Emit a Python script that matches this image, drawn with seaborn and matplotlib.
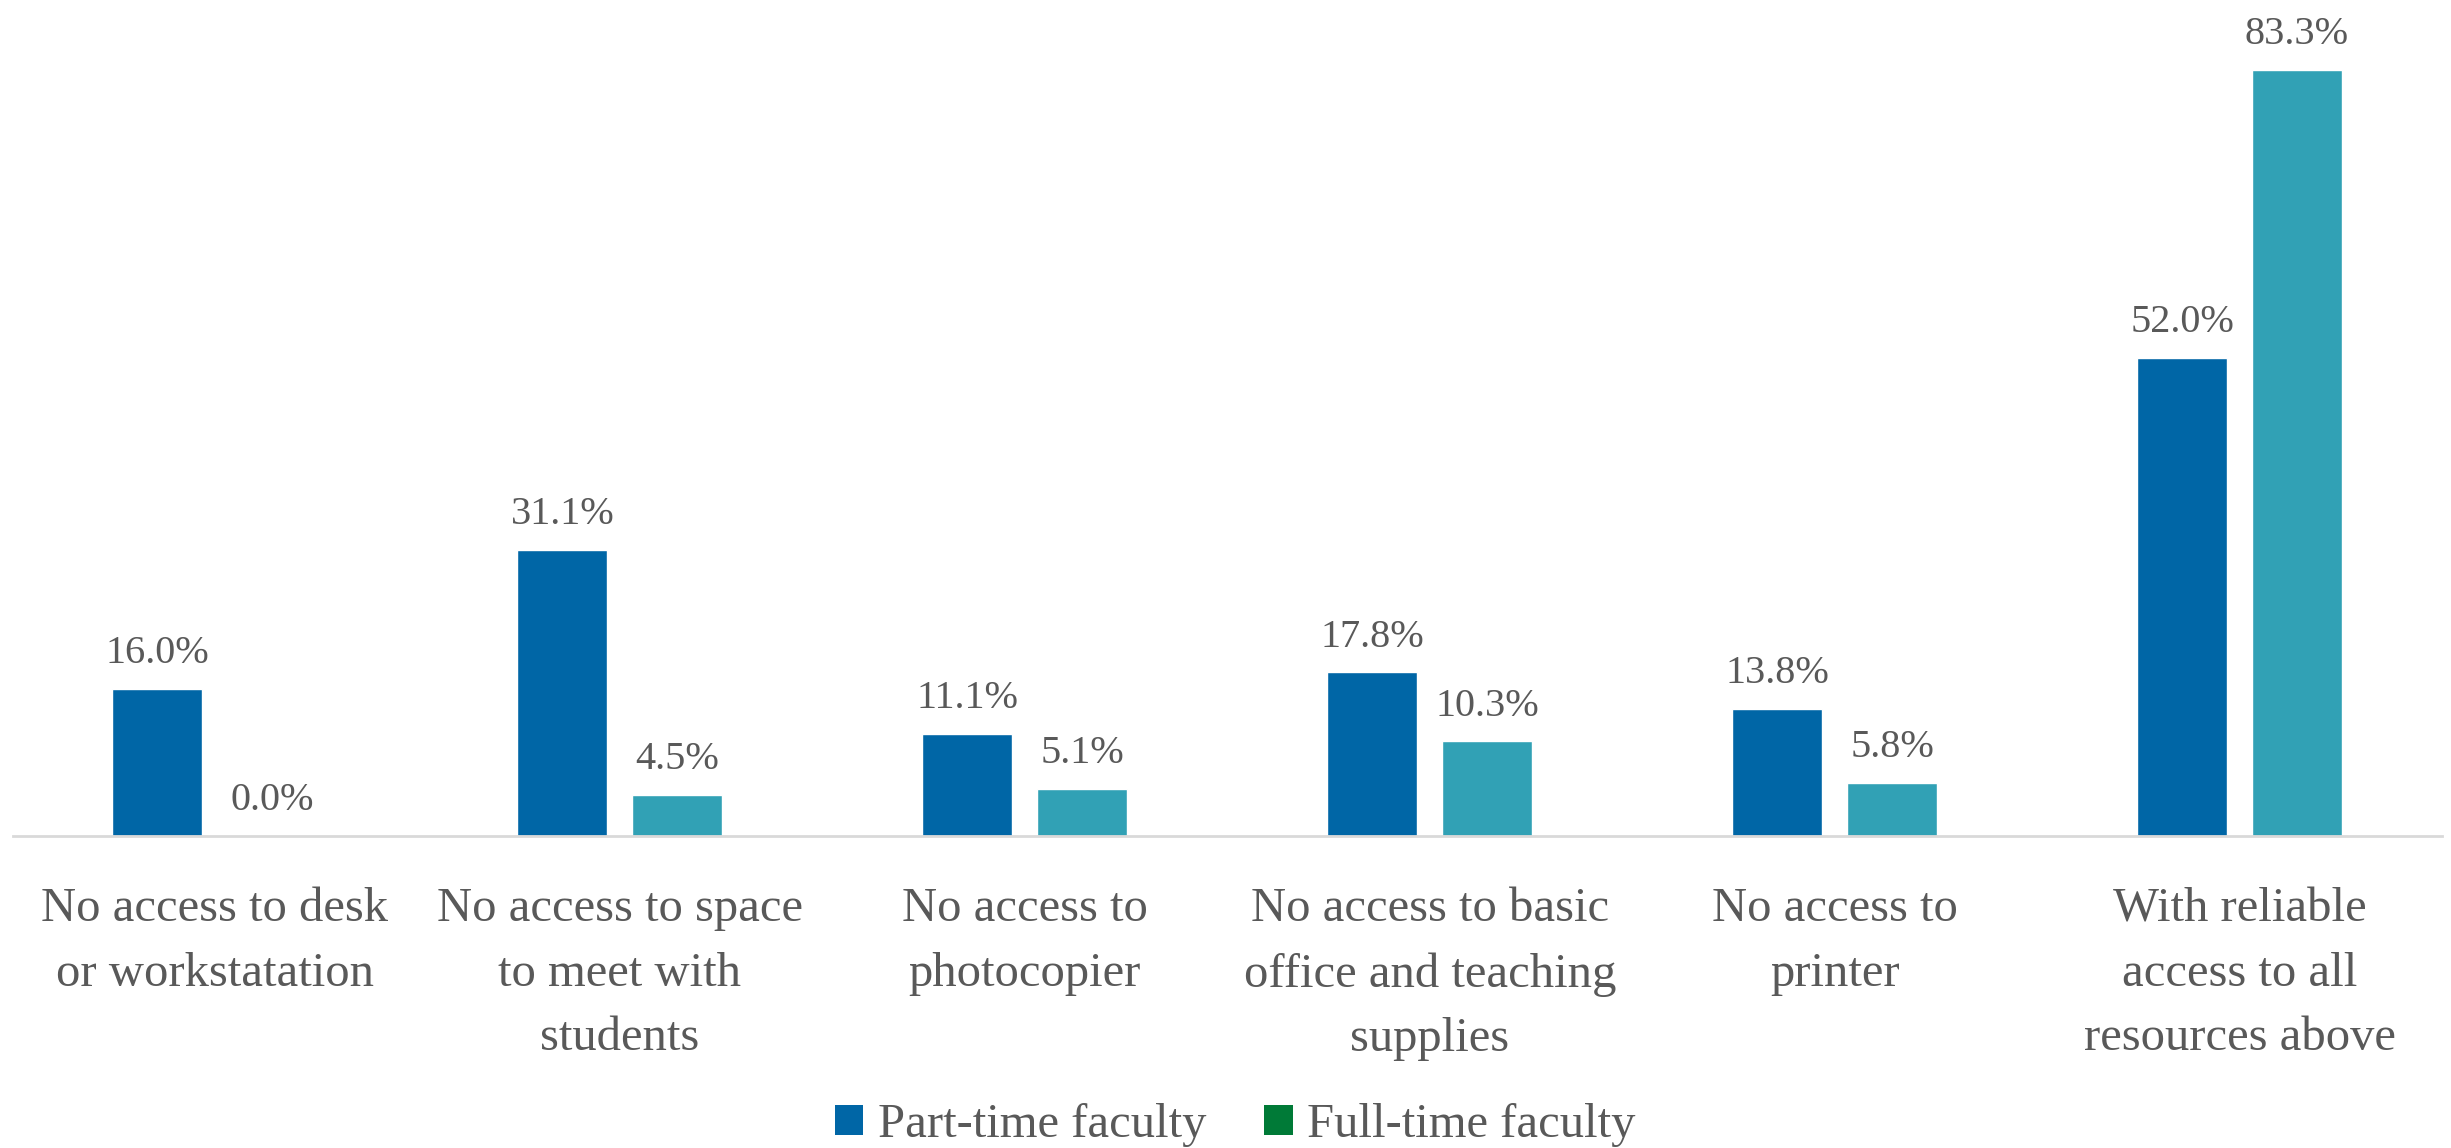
import matplotlib
matplotlib.use("Agg")
import matplotlib.pyplot as plt
import seaborn as sns
import pandas as pd
from matplotlib.patches import Patch

categories = [
    "No access to desk\nor workstatation",
    "No access to space\nto meet with\nstudents",
    "No access to\nphotocopier",
    "No access to basic\noffice and teaching\nsupplies",
    "No access to\nprinter",
    "With reliable\naccess to all\nresources above",
]
part_time = [16.0, 31.1, 11.1, 17.8, 13.8, 52.0]
full_time = [0.0, 4.5, 5.1, 10.3, 5.8, 83.3]
series_names = ["Part-time faculty", "Full-time faculty"]

bar_colors = ["#0066A6", "#31A1B5"]
legend_colors = ["#0066A6", "#007A37"]
text_color = "#595959"

df = pd.DataFrame({
    "category": categories * 2,
    "value": part_time + full_time,
    "series": [series_names[0]] * len(categories) + [series_names[1]] * len(categories),
})

sns.set_theme(style="white")
plt.rcParams["font.family"] = ["Liberation Serif", "DejaVu Serif"]

W, H = 2451, 1148
fig = plt.figure(figsize=(W / 100, H / 100), dpi=100)
ax = fig.add_axes([12.5 / W, 1 - 836 / H, (2442 - 12.5) / W, 836 / H])

sns.barplot(data=df, x="category", y="value", hue="series", palette=bar_colors,
            width=0.568, gap=0.218, ax=ax, legend=False, saturation=1)

ax.set_xlim(-0.5, 5.5)
ax.set_ylim(0, 90.9)
ax.set_xlabel("")
ax.set_ylabel("")
ax.set_yticks([])
for s in ["top", "right", "left"]:
    ax.spines[s].set_visible(False)
ax.spines["bottom"].set_color("#D9D9D9")
ax.spines["bottom"].set_linewidth(2.0)
ax.tick_params(axis="x", length=0, pad=37, labelsize=35, labelcolor=text_color)
for lbl in ax.get_xticklabels():
    lbl.set_linespacing(1.6)

for cont in ax.containers:
    ax.bar_label(cont, fmt="%.1f%%", padding=12, fontsize=29, color=text_color)

handles = [Patch(facecolor=c, edgecolor="none") for c in legend_colors]
fig.legend(handles, series_names, loc="center", bbox_to_anchor=(0.504, 0.02),
           ncol=2, frameon=False, fontsize=35, labelcolor=text_color,
           handlelength=0.58, handleheight=0.58, handletextpad=0.3,
           columnspacing=1.2, borderpad=0, borderaxespad=0)

fig.savefig("out.png", dpi=100)
